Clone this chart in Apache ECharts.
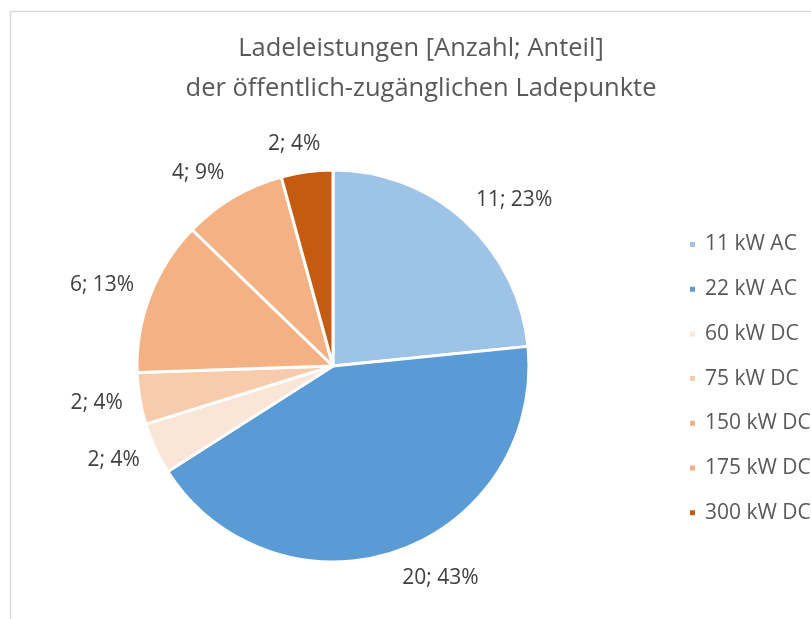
<!DOCTYPE html>
<html>
<head>
<meta charset="utf-8">
<script src="https://cdn.jsdelivr.net/npm/echarts@6/dist/echarts.min.js"></script>
<style>
  html, body { margin: 0; padding: 0; background: #fff; }
  #chart { width: 811px; height: 619px; }
</style>
</head>
<body>
<div id="chart"></div>
<script>
    'use strict';

    // Ladeleistungen und Anzahl der Ladepunkte
    var categories = ['11 kW AC', '22 kW AC', '60 kW DC', '75 kW DC', '150 kW DC', '175 kW DC', '300 kW DC'];
    var counts = [11, 20, 2, 2, 6, 4, 2];
    var colors = ['#9DC3E6', '#5B9BD5', '#FBE5D6', '#F8CBAD', '#F4B183', '#F4B183', '#C55A11'];

    var total = counts.reduce(function(a, b) { return a + b; }, 0);
    var FONT = '"Open Sans", sans-serif';
    var CENTER = [333, 366];
    var LABEL_R = 213;

    // mid angle of each slice (clockwise from 12 o'clock)
    var midAngles = [];
    var acc = 0;
    for (let i = 0; i < counts.length; i++) {
        midAngles.push((acc + counts[i] / 2) / total * Math.PI * 2);
        acc += counts[i];
    }

    // excel-like label placement: box corner sits on the ray outside the pie
    const placeLabel = function(params) {
        const a = midAngles[params.dataIndex];
        const s = Math.sin(a), c = Math.cos(a);
        const w = params.labelRect.width;
        const k = Math.max(-1, Math.min(1, s * 3));
        return {
            x: CENTER[0] + LABEL_R * s + k * w / 2,
            y: CENTER[1] - LABEL_R * c - c * 11,
            align: 'center',
            verticalAlign: 'middle'
        };
    };

    var chart = echarts.init(document.getElementById('chart'));
    chart.setOption({
        animation: false,
        graphic: [{
            type: 'rect',
            shape: { x: 10.5, y: 11.5, width: 820, height: 640 },
            style: { fill: 'none', stroke: '#d9d9d9', lineWidth: 1.5 },
            silent: true
        }],
        title: {
            text: 'Ladeleistungen [Anzahl; Anteil]\nder öffentlich-zugänglichen Ladepunkte',
            left: 416,
            textAlign: 'center',
            top: 24,
            textStyle: {
                fontFamily: FONT,
                fontSize: 25.5,
                fontWeight: 'normal',
                color: '#595959',
                lineHeight: 40
            }
        },
        legend: {
            orient: 'vertical',
            left: 683,
            top: 229,
            itemWidth: 7,
            itemHeight: 7,
            itemGap: 23.7,
            icon: 'rect',
            data: categories,
            textStyle: { fontFamily: FONT, fontSize: 21, color: '#595959', padding: [0, 0, 0, 4] }
        },
        series: [{
            type: 'pie',
            center: CENTER,
            radius: 196,
            startAngle: 90,
            clockwise: true,
            avoidLabelOverlap: false,
            itemStyle: { borderColor: '#fff', borderWidth: 3 },
            label: {
                position: 'outside',
                fontFamily: FONT,
                fontSize: 21,
                color: '#404040',
                formatter: function(p) {
                    return p.value + '; ' + Math.round(p.value / total * 100) + '%';
                }
            },
            labelLine: { show: false },
            labelLayout: placeLabel,
            emphasis: { disabled: true },
            data: categories.map(function(name, i) {
                return { name: name, value: counts[i], itemStyle: { color: colors[i] } };
            })
        }]
    });
</script>
</body>
</html>
